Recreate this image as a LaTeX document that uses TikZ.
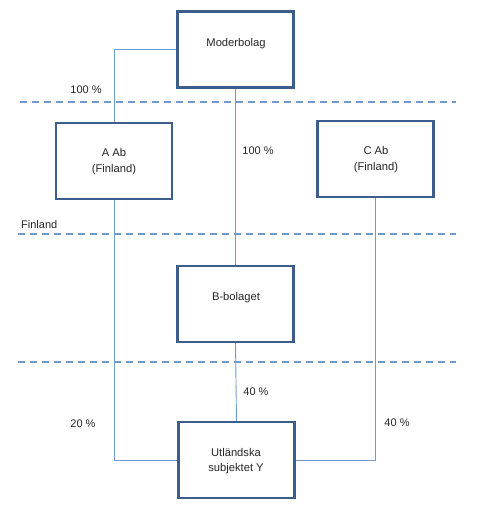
\documentclass[tikz,border=0pt]{standalone}
\usepackage{fontspec}
\setmainfont{Liberation Sans}
\begin{document}
\begin{tikzpicture}[x=1pt,y=-1pt,
  company/.style={draw=boxblue,line width=2.4pt,minimum width=116pt,minimum height=76pt,inner sep=0pt,fill=white},
  link/.style={draw=lineblue,line width=0.9pt},
  border/.style={draw=lineblue,line width=1.1pt,dash pattern=on 7pt off 5pt},
  lbl/.style={font=\fontsize{11}{13}\selectfont,text=black!85,inner sep=0pt},
  boxtext/.style={font=\fontsize{11.2}{15.5}\selectfont,text=black!85,align=center,inner sep=0pt}]
\definecolor{boxblue}{HTML}{3B5E8C}
\definecolor{lineblue}{HTML}{7099D0}
\useasboundingbox (0,0) rectangle (479,510);
% dashed borders
\coordinate (d1a) at (20,102); \coordinate (d1b) at (456,102);
\coordinate (d2a) at (18,234); \coordinate (d2b) at (456,234);
\coordinate (d3a) at (18,362); \coordinate (d3b) at (456,362);
\draw[border] (d1a) -- (d1b);
\draw[border] (d2a) -- (d2b);
\draw[border] (d3a) -- (d3b);
% boxes
\node[company] (mod) at (235.5,49.5) {};
\node[company] (aab) at (114,161) {};
\node[company] (cab) at (375.5,159) {};
\node[company] (bbo) at (235.5,304) {};
\node[company] (utl) at (236.5,460) {};
% connectors
\draw[link] (mod.west |- 0,49) -| (aab.north);
\draw[link] (mod.south) -- (bbo.north);
\draw[link] (aab.south) |- (utl.west);
\draw[link] (cab.south) |- (utl.east);
\draw[link] (bbo.south) -- (utl.north);
% redraw boxes on top
\node[company] at (mod) {};
\node[company] at (aab) {};
\node[company] at (cab) {};
\node[company] at (bbo) {};
\node[company] at (utl) {};
% texts
\node[boxtext] (tmod) at (236,43.5) {Moderbolag};
\node[boxtext] (taab) at (114,161.5) {A Ab\\(Finland)};
\node[boxtext] (tcab) at (376,159.5) {C Ab\\(Finland)};
\node[boxtext] (tbbo) at (236,297.5) {B-bolaget};
\node[boxtext] (tutl) at (236,461) {Utländska\\subjektet Y};
% labels
\node[lbl] (l1) at (86,89.5) {100 \%};
\node[lbl] (l2) at (258,150.5) {100 \%};
\node[lbl,anchor=west] (l3) at (21,224.5) {Finland};
\node[lbl] (l4) at (256,391.5) {40 \%};
\node[lbl] (l5) at (83,423.5) {20 \%};
\node[lbl] (l6) at (397,422.5) {40 \%};
\end{tikzpicture}
\end{document}
